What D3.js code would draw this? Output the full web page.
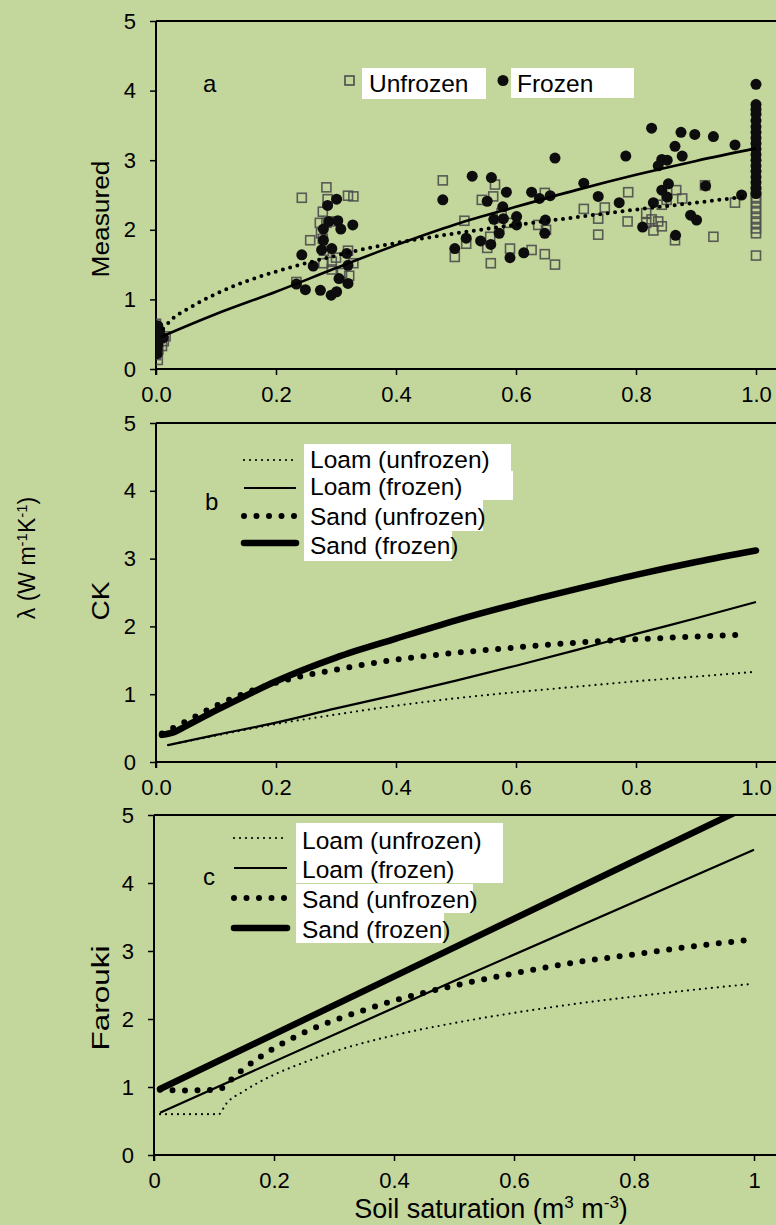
<!DOCTYPE html>
<html><head><meta charset="utf-8">
<script src="https://cdn.jsdelivr.net/npm/d3@7"></script>
<style>
body{margin:0;background:#c3d69b;}
svg text{font-family:"Liberation Sans",Arial,sans-serif;fill:#000;}
</style>
</head><body>
<svg id="chart" width="776" height="1225"></svg>
<script>
// ---------------- DATA ----------------
const xTickValues=[0,0.2,0.4,0.6,0.8,1.0];
const yTickValues=[0,1,2,3,4,5];
const panelLetters=["a","b","c"];
const panelTitles=["Measured","CK","Farouki"];
const legendA=["Unfrozen","Frozen"];
const seriesNames=["Loam (unfrozen)","Loam (frozen)","Sand (unfrozen)","Sand (frozen)"];

// Panel a: measured values [saturation, lambda]
const measuredUnfrozen=[
[0.0,0.65],[0.003,0.58],[0.0,0.50],[0.006,0.44],[0.002,0.36],[0.004,0.28],[0.0,0.20],[0.003,0.13],[0.016,0.47],[0.013,0.40],[0.01,0.33],
[0.243,2.46],[0.284,2.61],[0.32,2.49],[0.329,2.48],[0.286,2.44],[0.278,2.26],[0.273,2.10],[0.257,1.85],[0.278,1.87],[0.32,1.70],[0.279,1.52],[0.293,1.54],[0.329,1.52],[0.293,1.43],[0.322,1.34],[0.234,1.25],[0.284,2.10],[0.30,2.12],[0.275,1.95],[0.31,1.38],[0.30,1.60],[0.28,1.70],
[0.478,2.71],[0.498,1.61],[0.565,2.65],[0.543,2.43],[0.562,2.48],[0.648,2.53],[0.713,2.30],[0.737,2.16],[0.737,1.93],[0.514,2.13],[0.576,2.24],[0.572,2.04],[0.589,2.10],[0.637,2.07],[0.65,2.00],[0.557,1.90],[0.517,1.80],[0.552,1.74],[0.59,1.73],[0.626,1.71],[0.648,1.65],[0.558,1.52],[0.665,1.50],
[0.748,2.32],[0.787,2.54],[0.786,2.12],[0.817,2.24],[0.817,2.10],[0.826,2.15],[0.837,2.12],[0.843,2.05],[0.829,1.99],[0.843,2.36],[0.867,2.57],[0.877,2.45],[0.865,1.85],[0.915,2.64],[0.929,1.90],[0.965,2.39],[0.851,2.43],
[1.0,2.55],[1.0,2.47],[1.0,2.40],[1.0,2.32],[1.0,2.25],[1.0,2.17],[1.0,2.10],[1.0,2.02],[1.0,1.95],[1.0,1.63]
];
const measuredFrozen=[
[0.003,0.62],[0.002,0.55],[0.004,0.47],[0.001,0.41],[0.003,0.35],[0.002,0.28],[0.012,0.45],[0.006,0.55],[0.002,0.22],
[0.301,2.44],[0.286,2.35],[0.288,2.12],[0.303,2.13],[0.308,2.01],[0.328,2.07],[0.279,2.01],[0.279,1.85],[0.276,1.71],[0.293,1.73],[0.243,1.64],[0.262,1.48],[0.318,1.66],[0.32,1.49],[0.234,1.22],[0.249,1.14],[0.274,1.13],[0.292,1.06],[0.301,1.11],[0.305,1.30],[0.32,1.23],
[0.478,2.43],[0.498,1.73],[0.665,3.03],[0.527,2.77],[0.559,2.75],[0.584,2.54],[0.626,2.54],[0.639,2.45],[0.657,2.49],[0.713,2.67],[0.737,2.48],[0.552,2.41],[0.578,2.33],[0.563,2.15],[0.579,2.16],[0.601,2.19],[0.601,2.07],[0.649,2.14],[0.648,1.95],[0.572,1.95],[0.517,1.88],[0.541,1.84],[0.558,1.79],[0.59,1.60],[0.613,1.67],
[0.826,3.46],[0.875,3.40],[0.898,3.37],[0.929,3.34],[0.865,3.20],[0.965,3.22],[0.783,3.06],[0.843,3.01],[0.852,3.00],[0.877,3.06],[0.837,2.92],[0.854,2.66],[0.843,2.57],[0.852,2.47],[0.916,2.63],[0.976,2.50],[0.772,2.39],[0.829,2.39],[0.891,2.21],[0.901,2.14],[0.811,2.04],[0.866,1.92],
[1,4.09],[1,3.80],[1,3.73],[1,3.66],[1,3.57],[1,3.48],[1,3.40],[1,3.32],[1,3.24],[1,3.16],[1,3.08],[1,3.00],[1,2.92],[1,2.84],[1,2.76],[1,2.68],[1,2.60],[1,2.52]
];
const fitUnfrozen=[[0.012,0.58],[0.03,0.74],[0.05,0.85],[0.1,1.08],[0.15,1.26],[0.2,1.40],[0.25,1.52],[0.3,1.63],[0.35,1.73],[0.4,1.81],[0.5,1.95],[0.6,2.07],[0.7,2.18],[0.8,2.29],[0.9,2.39],[0.985,2.48]];
const fitFrozen=[[0.008,0.46],[0.1,0.79],[0.2,1.11],[0.3,1.45],[0.4,1.78],[0.5,2.08],[0.6,2.33],[0.7,2.57],[0.8,2.79],[0.9,2.99],[1.0,3.17]];

// Panel b: CK model
const ckLoamUnfrozen=[[0.02,0.25],[0.1,0.39],[0.2,0.56],[0.3,0.70],[0.4,0.83],[0.5,0.94],[0.6,1.03],[0.7,1.11],[0.8,1.19],[0.9,1.26],[1.0,1.33]];
const ckLoamFrozen=[[0.02,0.25],[0.1,0.40],[0.2,0.58],[0.3,0.79],[0.4,0.99],[0.5,1.20],[0.6,1.42],[0.7,1.65],[0.8,1.89],[0.9,2.12],[1.0,2.36]];
const ckSandUnfrozen=[[0.01,0.42],[0.05,0.60],[0.1,0.83],[0.15,1.02],[0.2,1.17],[0.25,1.28],[0.3,1.36],[0.35,1.44],[0.4,1.51],[0.5,1.61],[0.6,1.69],[0.7,1.76],[0.8,1.81],[0.9,1.85],[0.98,1.88]];
const ckSandFrozen=[[0.01,0.40],[0.03,0.44],[0.05,0.53],[0.1,0.76],[0.15,0.98],[0.2,1.19],[0.3,1.54],[0.4,1.82],[0.5,2.09],[0.6,2.33],[0.7,2.55],[0.8,2.76],[0.9,2.95],[1.0,3.12]];

// Panel c: Farouki model
const faroukiLoamUnfrozen=[[0.01,0.60],[0.108,0.60],[0.12,0.75],[0.15,0.94],[0.2,1.18],[0.25,1.36],[0.3,1.52],[0.4,1.76],[0.5,1.94],[0.6,2.09],[0.7,2.22],[0.8,2.33],[0.9,2.43],[0.99,2.51]];
const faroukiLoamFrozen=[[0.01,0.62],[0.5,2.56],[1.0,4.49]];
const faroukiSandUnfrozen=[[0.01,0.96],[0.05,0.95],[0.1,0.96],[0.115,0.99],[0.13,1.12],[0.15,1.27],[0.2,1.57],[0.25,1.80],[0.3,1.98],[0.35,2.13],[0.4,2.27],[0.5,2.49],[0.6,2.67],[0.7,2.83],[0.8,2.95],[0.9,3.07],[1.0,3.17]];
const faroukiSandFrozen=[[0.01,0.97],[0.5,3.05],[1.0,5.17]];

// ---------------- STYLES / LAYOUT ----------------
const W=776;
const LEG_FS=24.5;
const lineStyles=[
  {width:2.2,dash:"0,6",cap:"round"},     // loam unfrozen
  {width:2.2,dash:null,cap:"butt"},       // loam frozen
  {width:6,dash:"0,12.5",cap:"round"},    // sand unfrozen
  {width:6.5,dash:null,cap:"round"}       // sand frozen
];
const panels=[
  {x0:156,x1:756,top:21,bot:369,fmt:d=>d.toFixed(1)},
  {x0:156,x1:756,top:423,bot:762,fmt:d=>d.toFixed(1)},
  {x0:154,x1:754,top:815,bot:1155,fmt:d=>(d===0||d===1)?String(d):d.toFixed(1)}
];

const svg=d3.select("#chart");
svg.append("rect").attr("width",776).attr("height",1225).attr("fill","#c3d69b");

function setupPanel(i){
  const p=panels[i];
  const x=d3.scaleLinear().domain([0,1]).range([p.x0,p.x1]);
  const y=d3.scaleLinear().domain([0,5]).range([p.bot,p.top]);
  const g=svg.append("g");
  svg.append("clipPath").attr("id","clip"+i).append("rect")
    .attr("x",p.x0).attr("y",p.top).attr("width",W-p.x0).attr("height",p.bot-p.top);
  const ya=g.append("g").attr("transform",`translate(${p.x0},0)`)
    .call(d3.axisLeft(y).tickValues(yTickValues).tickSize(6).tickPadding(14).tickFormat(d3.format("d")));
  const xa=g.append("g").attr("transform",`translate(0,${p.bot})`)
    .call(d3.axisBottom(x).tickValues(xTickValues).tickSize(6).tickPadding(11).tickFormat(p.fmt));
  [ya,xa].forEach(a=>{
    a.select(".domain").remove();
    a.selectAll("line").attr("stroke","#000").attr("stroke-width",1.5);
    a.selectAll("text").attr("font-size",22).attr("font-family","'Liberation Sans',Arial,sans-serif");
  });
  g.append("line").attr("x1",p.x0).attr("x2",W).attr("y1",p.bot).attr("y2",p.bot).attr("stroke","#000").attr("stroke-width",2);
  g.append("line").attr("x1",p.x0).attr("x2",W).attr("y1",p.top).attr("y2",p.top).attr("stroke","#000").attr("stroke-width",2);
  g.append("line").attr("x1",p.x0).attr("x2",p.x0).attr("y1",p.top).attr("y2",p.bot+6).attr("stroke","#000").attr("stroke-width",2);
  const plot=svg.append("g").attr("clip-path",`url(#clip${i})`);
  return {x,y,g,plot,p};
}

function styled(sel,s){
  sel.attr("fill","none").attr("stroke","#000").attr("stroke-width",s.width)
    .attr("stroke-linecap",s.cap).attr("stroke-linejoin","round");
  if(s.dash) sel.attr("stroke-dasharray",s.dash);
  return sel;
}

// ---------- Panel a ----------
(function(){
  const {x,y,g,plot}=setupPanel(0);
  const line=d3.line().x(d=>x(d[0])).y(d=>y(d[1])).curve(d3.curveMonotoneX);
  plot.selectAll("rect.sq").data(measuredUnfrozen).join("rect").attr("class","sq")
    .attr("x",d=>x(d[0])-4.5).attr("y",d=>y(d[1])-4.5).attr("width",9).attr("height",9)
    .attr("fill","none").attr("stroke","#4d4d4d").attr("stroke-width",1.6).attr("stroke-opacity",0.9);
  plot.selectAll("circle.dt").data(measuredFrozen).join("circle").attr("class","dt")
    .attr("cx",d=>x(d[0])).attr("cy",d=>y(d[1])).attr("r",5.5).attr("fill","#0d0d0d");
  styled(plot.append("path").attr("d",line(fitUnfrozen)),{width:4,dash:"0,7.5",cap:"round"});
  styled(plot.append("path").attr("d",line(fitFrozen)),{width:2.6,dash:null,cap:"butt"});
  g.append("text").attr("x",203).attr("y",92).attr("font-size",24).text(panelLetters[0]);
  g.append("rect").attr("x",362).attr("y",68).attr("width",124).attr("height",31).attr("fill","#fff");
  g.append("rect").attr("x",511).attr("y",68).attr("width",123).attr("height",30).attr("fill","#fff");
  g.append("rect").attr("x",345).attr("y",76).attr("width",9).attr("height",9).attr("fill","none").attr("stroke","#4d4d4d").attr("stroke-width",1.6);
  g.append("circle").attr("cx",503).attr("cy",80.5).attr("r",5.5).attr("fill","#0d0d0d");
  g.append("text").attr("x",369).attr("y",92).attr("font-size",LEG_FS).text(legendA[0]);
  g.append("text").attr("x",517).attr("y",92).attr("font-size",LEG_FS).text(legendA[1]);
  g.append("text").attr("font-size",23).attr("text-anchor","middle")
    .attr("transform","translate(109,219) rotate(-90)").attr("textLength",117).attr("lengthAdjust","spacingAndGlyphs")
    .text(panelTitles[0]);
})();

function modelPanel(i,series,leg){
  const {x,y,g,plot}=setupPanel(i);
  const line=d3.line().x(d=>x(d[0])).y(d=>y(d[1])).curve(d3.curveMonotoneX);
  leg.boxes.forEach(b=>g.append("rect").attr("x",b[0]).attr("y",b[1]).attr("width",b[2]-b[0]).attr("height",b[3]-b[1]).attr("fill","#fff"));
  series.forEach((s,k)=>styled(plot.append("path").attr("d",line(s)),lineStyles[k]));
  seriesNames.forEach((n,k)=>{
    styled(g.append("line").attr("x1",leg.lx0).attr("x2",leg.lx1).attr("y1",leg.ly[k]).attr("y2",leg.ly[k]),lineStyles[k]);
    g.append("text").attr("x",leg.tx).attr("y",leg.ty[k]).attr("font-size",LEG_FS).text(n);
  });
  g.append("text").attr("x",leg.letter[0]).attr("y",leg.letter[1]).attr("font-size",24).text(panelLetters[i]);
  return {x,y,g};
}

// ---------- Panel b ----------
(function(){
  const {g}=modelPanel(1,[ckLoamUnfrozen,ckLoamFrozen,ckSandUnfrozen,ckSandFrozen],{
    boxes:[[304,444,511,472],[304,471,513,500],[304,500,483,531],[304,531,452,561]],
    lx0:244,lx1:296,ly:[460,488,516,543],tx:310,ty:[468,495,525,554],letter:[205,510]
  });
  g.append("text").attr("font-size",23).attr("text-anchor","middle")
    .attr("transform","translate(109,601) rotate(-90)").attr("textLength",39).attr("lengthAdjust","spacingAndGlyphs")
    .text(panelTitles[1]);
})();

// ---------- Panel c ----------
(function(){
  const {g}=modelPanel(2,[faroukiLoamUnfrozen,faroukiLoamFrozen,faroukiSandUnfrozen,faroukiSandFrozen],{
    boxes:[[296,823,503,883],[296,884,473,913],[296,913,444,943]],
    lx0:234,lx1:287,ly:[838,868,898,928],tx:302,ty:[849,878,908,938],letter:[203,885]
  });
  g.append("text").attr("font-size",23).attr("text-anchor","middle")
    .attr("transform","translate(109,998) rotate(-90)").attr("textLength",105).attr("lengthAdjust","spacingAndGlyphs")
    .text(panelTitles[2]);
  const t=g.append("text").attr("x",491).attr("y",1218).attr("font-size",27).attr("text-anchor","middle");
  t.append("tspan").text("Soil saturation (m");
  t.append("tspan").attr("dy",-10).attr("font-size",17).text("3");
  t.append("tspan").attr("dy",10).text(" m");
  t.append("tspan").attr("dy",-10).attr("font-size",17).text("-3");
  t.append("tspan").attr("dy",10).text(")");
})();

// global y title
(function(){
  const t=svg.append("text").attr("font-size",23).attr("text-anchor","middle")
    .attr("transform","translate(35,558) rotate(-90)");
  t.append("tspan").text("λ (W m");
  t.append("tspan").attr("dy",-8).attr("font-size",15).text("-1");
  t.append("tspan").attr("dy",8).text("K");
  t.append("tspan").attr("dy",-8).attr("font-size",15).text("-1");
  t.append("tspan").attr("dy",8).text(")");
})();
</script>
</body></html>
